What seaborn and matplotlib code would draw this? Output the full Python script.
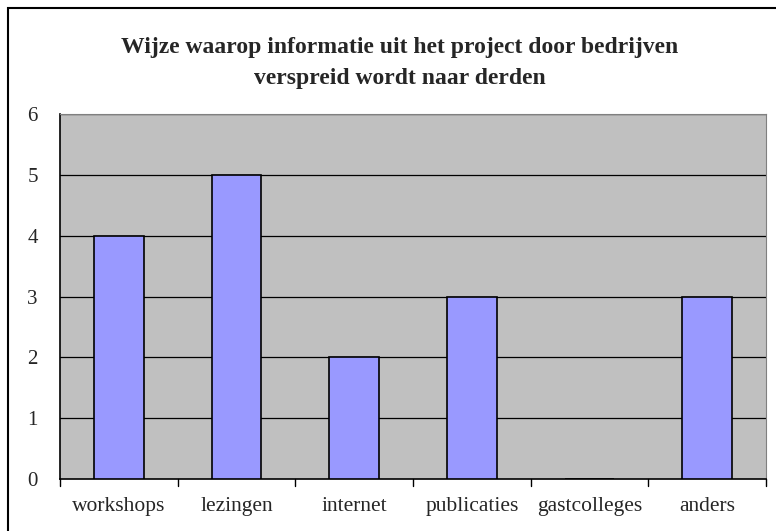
import matplotlib
matplotlib.use("Agg")
import matplotlib.pyplot as plt
import seaborn as sns
import pandas as pd
from matplotlib.patches import Rectangle

categories = ["workshops", "lezingen", "internet", "publicaties", "gastcolleges", "anders"]
values = [4, 5, 2, 3, 0, 3]
yticks = [0, 1, 2, 3, 4, 5, 6]
title = "Wijze waarop informatie uit het project door bedrijven\nverspreid wordt naar derden"

sns.set_style("white")
plt.rcParams["font.family"] = ["Liberation Serif", "DejaVu Serif"]

df = pd.DataFrame({"cat": categories, "val": values})

fig = plt.figure(figsize=(7.76, 5.31), dpi=100)
ax = fig.add_axes([60 / 776, 1 - 479 / 531, 706 / 776, 365 / 531])
ax.set_facecolor("#C0C0C0")

sns.barplot(data=df, x="cat", y="val", color="#9999FF", width=0.42,
            edgecolor="black", linewidth=1.2, saturation=1, ax=ax, zorder=3)

ax.set_ylim(0, 6)
ax.set_xlim(-0.5, len(categories) - 0.5)
ax.set_yticks(yticks)
ax.set_yticklabels([str(t) for t in yticks], fontsize=15)
ax.set_xticks(range(len(categories)))
ax.set_xticklabels(categories, fontsize=15.5)
ax.set_xlabel("")
ax.set_ylabel("")

for y in yticks[1:]:
    ax.axhline(y, color="black", linewidth=0.9, zorder=1)

# category boundary ticks on x axis
ax.tick_params(axis="x", length=0, pad=13)
for b in range(len(categories) + 1):
    ax.plot([b - 0.5, b - 0.5], [0, -0.12], color="black", linewidth=1,
            clip_on=False, zorder=4)
ax.tick_params(axis="y", direction="out", length=5, width=1, color="black", pad=11)

for side in ["top", "right"]:
    ax.spines[side].set_color("#808080")
    ax.spines[side].set_linewidth(0.8)
for side in ["left", "bottom"]:
    ax.spines[side].set_color("black")
    ax.spines[side].set_linewidth(1.2)

fig.text(400 / 776, 1 - 63 / 531, title, ha="center", va="center",
         fontsize=17, fontweight="bold", linespacing=1.6)

fig.patches.append(Rectangle((8 / 776, -0.01), 1.0, 1 - 8 / 531 + 0.01,
                             transform=fig.transFigure, fill=False,
                             edgecolor="black", linewidth=1.5))

fig.savefig("out.png", dpi=100)
